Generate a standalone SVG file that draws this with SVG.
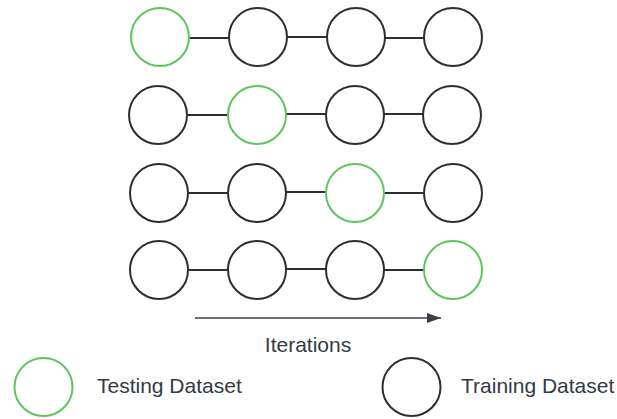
<svg xmlns="http://www.w3.org/2000/svg" width="617" height="419" viewBox="0 0 617 419">
<defs>
<style>
.train{fill:#fff;stroke:#2b2e35;stroke-width:2}
.test{fill:#fff;stroke:#5cc65c;stroke-width:2}
.link{stroke:#2b2e35;stroke-width:2;fill:none}
.lbl{font-family:"Liberation Sans",Arial,sans-serif;font-size:21px;fill:#343a44}
</style>
<marker id="ah" viewBox="0 0 14 10" refX="14" refY="5" markerWidth="14" markerHeight="10" markerUnits="userSpaceOnUse" orient="auto">
<path d="M0,0 L14,5 L0,10 z" fill="#3a3f48"/>
</marker>
</defs>
<rect width="617" height="419" fill="#fff"/>
<g id="connectors">
<line class="link" x1="189" y1="38" x2="229" y2="38"/>
<line class="link" x1="287" y1="37" x2="327" y2="37"/>
<line class="link" x1="385" y1="38" x2="424" y2="38"/>
<line class="link" x1="187" y1="115" x2="228" y2="115"/>
<line class="link" x1="286" y1="114" x2="326" y2="114"/>
<line class="link" x1="384" y1="114" x2="423" y2="114"/>
<line class="link" x1="188" y1="193" x2="228" y2="193"/>
<line class="link" x1="286" y1="192" x2="326" y2="192"/>
<line class="link" x1="384" y1="193" x2="424" y2="193"/>
<line class="link" x1="188" y1="270" x2="228" y2="270"/>
<line class="link" x1="286" y1="269" x2="326" y2="269"/>
<line class="link" x1="384" y1="270" x2="424" y2="270"/>
<line x1="195" y1="318" x2="441" y2="318" stroke="#3a3f48" stroke-width="1.5" marker-end="url(#ah)"/>
</g>
<g id="r1c1"><circle class="test" cx="160" cy="37" r="29"/></g>
<g id="r1c2"><circle class="train" cx="258" cy="37" r="29"/></g>
<g id="r1c3"><circle class="train" cx="356" cy="37" r="29"/></g>
<g id="r1c4"><circle class="train" cx="453" cy="37" r="29"/></g>
<g id="r2c1"><circle class="train" cx="158" cy="115" r="29"/></g>
<g id="r2c2"><circle class="test" cx="257" cy="115" r="29"/></g>
<g id="r2c3"><circle class="train" cx="355" cy="115" r="29"/></g>
<g id="r2c4"><circle class="train" cx="452" cy="115" r="29"/></g>
<g id="r3c1"><circle class="train" cx="159" cy="193" r="29"/></g>
<g id="r3c2"><circle class="train" cx="257" cy="193" r="29"/></g>
<g id="r3c3"><circle class="test" cx="355" cy="193" r="29"/></g>
<g id="r3c4"><circle class="train" cx="453" cy="193" r="29"/></g>
<g id="r4c1"><circle class="train" cx="159" cy="270" r="29"/></g>
<g id="r4c2"><circle class="train" cx="257" cy="270" r="29"/></g>
<g id="r4c3"><circle class="train" cx="355" cy="270" r="29"/></g>
<g id="r4c4"><circle class="test" cx="453" cy="270" r="29"/></g>
<g id="iterations"><text class="lbl" x="308" y="352" text-anchor="middle">Iterations</text></g>
<g id="legend-testing">
<circle class="test" cx="43.5" cy="387" r="29"/>
<text class="lbl" x="97" y="393">Testing Dataset</text>
</g>
<g id="legend-training">
<circle class="train" cx="411.5" cy="387" r="29"/>
<text class="lbl" x="461" y="393">Training Dataset</text>
</g>
</svg>
